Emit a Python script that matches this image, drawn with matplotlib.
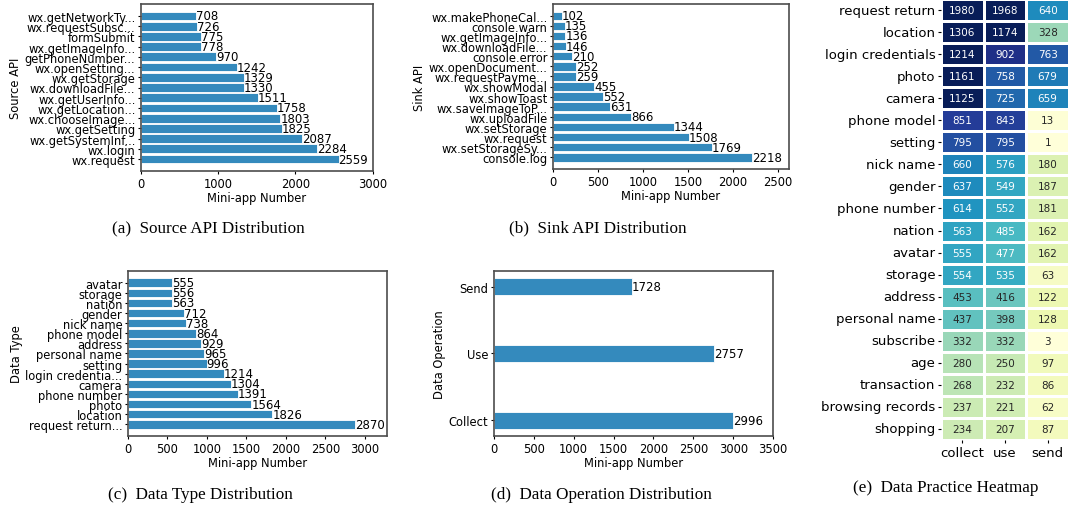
import matplotlib
matplotlib.use("Agg")
import matplotlib.pyplot as plt
import numpy as np
import pandas as pd
import seaborn as sns

# data, bottom-to-top order as drawn by barh
source_apis = ["wx.request", "wx.login", "wx.getSystemInf...", "wx.getSetting",
               "wx.chooseImage...", "wx.getLocation...", "wx.getUserInfo...",
               "wx.downloadFile...", "wx.getStorage", "wx.openSetting...",
               "getPhoneNumber...", "wx.getImageInfo...", "formSubmit",
               "wx.requestSubsc...", "wx.getNetworkTy..."]
source_counts = [2559, 2284, 2087, 1825, 1803, 1758, 1511, 1330, 1329, 1242,
                 970, 778, 775, 726, 708]

sink_apis = ["console.log", "wx.setStorageSy...", "wx.request", "wx.setStorage",
             "wx.uploadFile", "wx.saveImageToP...", "wx.showToast", "wx.showModal",
             "wx.requestPayme...", "wx.openDocument...", "console.error",
             "wx.downloadFile...", "wx.getImageInfo...", "console.warn",
             "wx.makePhoneCal..."]
sink_counts = [2218, 1769, 1508, 1344, 866, 631, 552, 455, 259, 252, 210,
               146, 136, 135, 102]

data_types = ["request return...", "location", "photo", "phone number", "camera",
              "login credentia...", "setting", "personal name", "address",
              "phone model", "nick name", "gender", "nation", "storage", "avatar"]
type_counts = [2870, 1826, 1564, 1391, 1304, 1214, 996, 965, 929, 864, 738,
               712, 563, 556, 555]

operations = ["Collect", "Use", "Send"]
op_counts = [2996, 2757, 1728]

heat_rows = ["request return", "location", "login credentials", "photo", "camera",
             "phone model", "setting", "nick name", "gender", "phone number",
             "nation", "avatar", "storage", "address", "personal name",
             "subscribe", "age", "transaction", "browsing records", "shopping"]
heat_cols = ["collect", "use", "send"]
collect_vals = [1980, 1306, 1214, 1161, 1125, 851, 795, 660, 637, 614, 563, 555,
                554, 453, 437, 332, 280, 268, 237, 234]
use_vals = [1968, 1174, 902, 758, 725, 843, 795, 576, 549, 552, 485, 477, 535,
            416, 398, 332, 250, 232, 221, 207]
send_vals = [640, 328, 763, 679, 659, 13, 1, 180, 187, 181, 162, 162, 63, 122,
             128, 3, 97, 86, 62, 87]

W, H = 1069, 510
BAR = "#348ABD"
fig = plt.figure(figsize=(W / 100, H / 100), dpi=100)


def px_axes(l, t, r, b):
    return fig.add_axes([l / W, 1 - b / H, (r - l) / W, (b - t) / H])


def bar_panel(ax, labels, vals, ylabel, xmax, height=0.85):
    ax.barh(labels, vals, height=height, color=BAR, edgecolor="white", linewidth=0.6)
    for i, v in enumerate(vals):
        ax.text(v, i, str(v), va="center", ha="left", fontsize=8.5)
    ax.set_xlim(0, xmax)
    ax.set_xlabel("Mini-app Number", fontsize=8.3, labelpad=1)
    ax.set_ylabel(ylabel, fontsize=8.3, labelpad=2)
    ax.tick_params(labelsize=8.3, length=2.5, pad=1.5)
    for s in ax.spines.values():
        s.set_color("#4d4d4d")
        s.set_linewidth(1.2)


ax_a = px_axes(141, 5, 373, 172)
bar_panel(ax_a, source_apis, source_counts, "Source API", 3005)

ax_b = px_axes(553, 5, 789, 170)
bar_panel(ax_b, sink_apis, sink_counts, "Sink API", 2625)

ax_c = px_axes(128, 272, 387, 437)
bar_panel(ax_c, data_types, type_counts, "Data Type", 3280)

ax_d = px_axes(494, 272, 773, 437)
bar_panel(ax_d, operations, op_counts, "Data Operation", 3500, height=0.25)

# heatmap
ax_e = px_axes(941, 0, 1069, 441)
heat = pd.DataFrame({"collect": collect_vals, "use": use_vals, "send": send_vals},
                    index=heat_rows)[heat_cols]
sns.heatmap(heat, ax=ax_e, cmap="YlGnBu", vmin=0, vmax=1000, annot=True, fmt="d",
            annot_kws={"fontsize": 7.5}, linewidths=1, linecolor="white", cbar=False)
ax_e.tick_params(axis="y", labelsize=9.5, length=2.5, pad=1.5, rotation=0)
ax_e.tick_params(axis="x", labelsize=9.5, length=2.5, pad=1.5, rotation=0)
ax_e.set_xlabel("")
ax_e.set_ylabel("")

# captions
cap = dict(fontsize=12.3, family="Liberation Serif", ha="center", va="center")
fig.text(208 / W, 1 - 228 / H, "(a)  Source API Distribution", **cap)
fig.text(598 / W, 1 - 228 / H, "(b)  Sink API Distribution", **cap)
fig.text(200 / W, 1 - 495 / H, "(c)  Data Type Distribution", **cap)
fig.text(601 / W, 1 - 495 / H, "(d)  Data Operation Distribution", **cap)
fig.text(946 / W, 1 - 488 / H, "(e)  Data Practice Heatmap", **cap)

fig.savefig("out.png", dpi=100)
